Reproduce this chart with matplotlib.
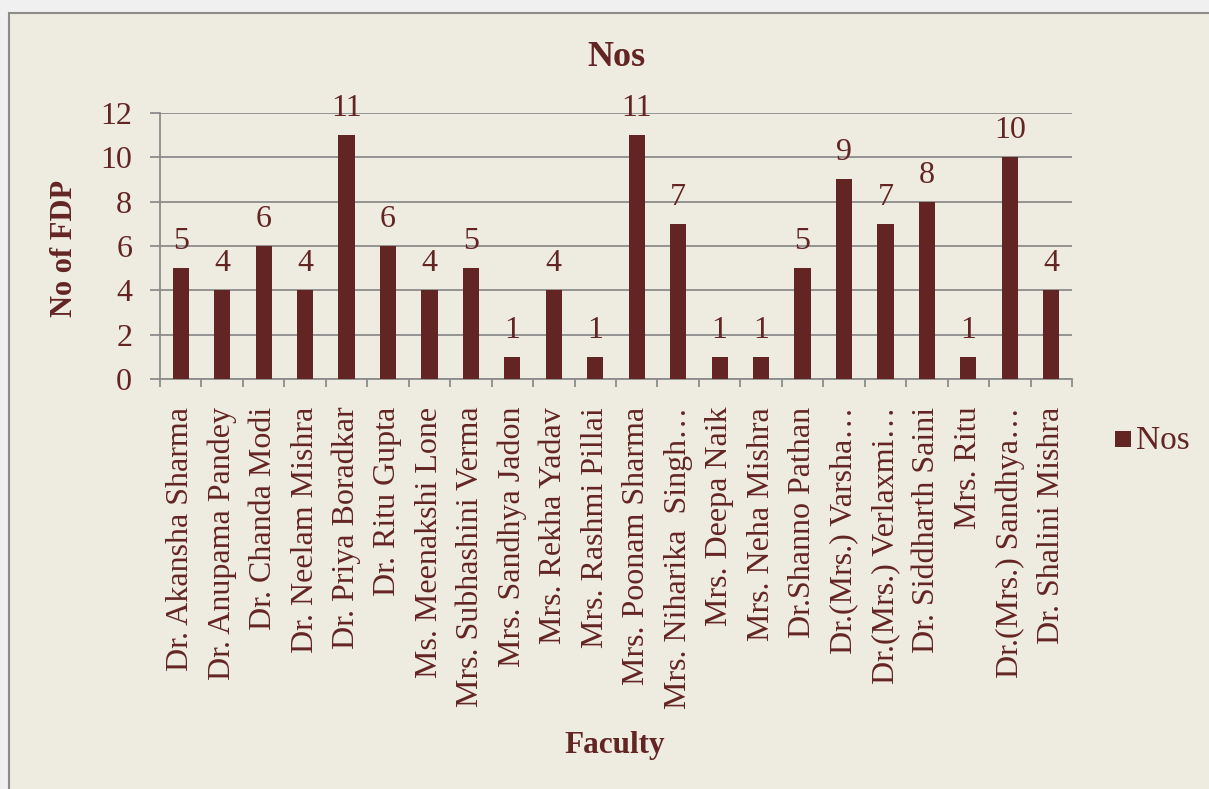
import matplotlib
matplotlib.use("Agg")
import matplotlib.pyplot as plt
from matplotlib.patches import Rectangle

faculty = ["Dr. Akansha Sharma", "Dr. Anupama Pandey", "Dr. Chanda Modi", "Dr. Neelam Mishra",
           "Dr. Priya Boradkar", "Dr. Ritu Gupta", "Ms. Meenakshi Lone", "Mrs. Subhashini Verma",
           "Mrs. Sandhya Jadon", "Mrs. Rekha Yadav", "Mrs. Rashmi Pillai", "Mrs. Poonam Sharma",
           "Mrs. Niharika  Singh\u2026", "Mrs. Deepa Naik", "Mrs. Neha Mishra", "Dr.Shanno Pathan",
           "Dr.(Mrs.) Varsha\u2026", "Dr.(Mrs.) Verlaxmi\u2026", "Dr. Siddharth Saini", "Mrs. Ritu",
           "Dr.(Mrs.) Sandhya\u2026", "Dr. Shalini Mishra"]
nos = [5, 4, 6, 4, 11, 6, 4, 5, 1, 4, 1, 11, 7, 1, 1, 5, 9, 7, 8, 1, 10, 4]
yticks = [0, 2, 4, 6, 8, 10, 12]

BAR = "#632523"
TXT = "#632523"
BG = "#EEEBE0"
GRID = "#8C8C8C"

plt.rcParams['font.family'] = ['Liberation Serif', 'DejaVu Serif']

fig = plt.figure(figsize=(12.09, 7.89), dpi=100)
fig.patch.set_facecolor("#F0F0F0")
# chart area box
fig.patches.append(Rectangle((9/1209, -0.05), 1.2, 1 - 13/789 + 0.05, transform=fig.transFigure,
                             facecolor=BG, edgecolor="#8C8C8C", linewidth=1.5, zorder=-5))

ax = fig.add_axes([160/1209, 1 - 379/789, (1072 - 160)/1209, (379 - 113)/789])
ax.set_zorder(2)
ax.set_facecolor("none")
x = list(range(len(faculty)))
ax.bar(x, nos, width=0.39, color=BAR, zorder=3)
for xi, v in zip(x, nos):
    ax.text(xi, v + 0.86, str(v), ha="center", va="baseline", fontsize=23, color=TXT, zorder=4)

ax.set_xlim(-0.5, len(faculty) - 0.5)
ax.set_ylim(0, 12)
ax.set_yticks(yticks)
ax.set_yticklabels([str(t) for t in yticks], fontsize=23, color=TXT)
ax.yaxis.grid(True, color=GRID, linewidth=1.3, zorder=0)
ax.set_axisbelow(True)
ax.tick_params(axis="y", length=7, color=GRID, width=1.3, pad=13)

ax.set_xticks(x)
ax.set_xticklabels(faculty, rotation=90, fontsize=23, color=TXT)
ax.tick_params(axis="x", length=0, pad=20)
# category boundary ticks
ax.set_xticks([i - 0.5 for i in range(len(faculty) + 1)], minor=True)
ax.tick_params(axis="x", which="minor", length=5.5, color=GRID, width=1.3)

for s in ["top", "right"]:
    ax.spines[s].set_visible(False)
for s in ["left", "bottom"]:
    ax.spines[s].set_color(GRID)
    ax.spines[s].set_linewidth(1.3)

fig.text(616/1209, 1 - 57/789, "Nos", ha="center", va="center", fontsize=26, fontweight="bold", color=TXT)
fig.text(65/1209, 1 - 248/789, "No of FDP", ha="center", va="center", rotation=90,
         fontsize=22, fontweight="bold", color=TXT)
fig.text(615/1209, 1 - 746/789, "Faculty", ha="center", va="center", fontsize=22.5,
         fontweight="bold", color=TXT)

# legend
fig.patches.append(Rectangle((1115/1209, 1 - 447/789), 16/1209, 16/789, transform=fig.transFigure,
                             facecolor=BAR, edgecolor="none", zorder=1))
fig.text(1136/1209, 1 - 441/789, "Nos", ha="left", va="center", fontsize=24, color=TXT)

fig.savefig("out.png", dpi=100, facecolor=fig.get_facecolor())
